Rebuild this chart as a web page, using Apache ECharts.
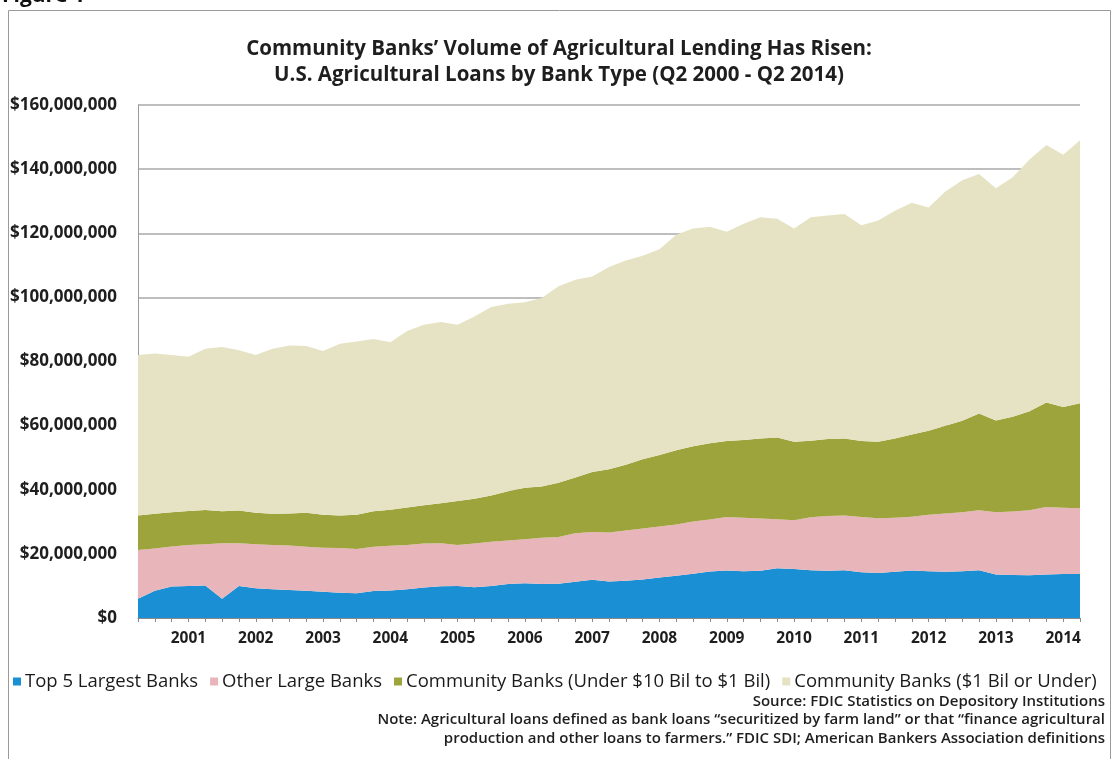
<!DOCTYPE html>
<html>
<head>
<meta charset="utf-8">
<script src="https://cdn.jsdelivr.net/npm/echarts@6/dist/echarts.min.js"></script>
<style>
  html, body { margin: 0; padding: 0; background: #ffffff; }
  #chart { width: 1118px; height: 759px; }
</style>
</head>
<body>
<div id="chart"></div>
<script>
// Quarterly agricultural loans by bank type, Q2 2000 - Q2 2014 (values in millions of the axis unit)
const quarters = [];
for (let y = 2000; y <= 2014; y++) {
  for (let q = 1; q <= 4; q++) {
    if ((y === 2000 && q < 2) || (y === 2014 && q > 2)) continue;
    quarters.push(y + ' Q' + q);
  }
}

const top5Largest = [
  6.0, 8.5, 9.8, 10.0, 10.1, 6.0, 10.0, 9.3, 9.0, 8.7, 8.5, 8.2, 7.9, 7.7, 8.4,
  8.6, 9.0, 9.5, 9.9, 10.0, 9.6, 10.0, 10.6, 10.8, 10.6, 10.7, 11.3, 11.9, 11.4,
  11.6, 12.0, 12.6, 13.2, 13.8, 14.5, 14.8, 14.6, 14.7, 15.5, 15.3, 14.9, 14.7,
  14.9, 14.3, 14.0, 14.4, 14.8, 14.6, 14.4, 14.6, 14.9, 13.6, 13.4, 13.3, 13.6,
  13.7, 13.7
];

const otherLarge = [
  15.2, 13.2, 12.5, 12.8, 12.9, 17.3, 13.3, 13.7, 13.8, 13.9, 13.7, 13.7, 13.9,
  13.8, 13.8, 13.9, 13.8, 13.7, 13.4, 12.8, 13.6, 13.8, 13.6, 13.8, 14.4, 14.6,
  15.1, 14.9, 15.3, 15.7, 15.9, 15.9, 16.0, 16.3, 16.2, 16.7, 16.7, 16.3, 15.3,
  15.2, 16.5, 17.1, 17.1, 17.2, 17.1, 16.9, 16.8, 17.6, 18.2, 18.4, 18.7, 19.4,
  19.8, 20.3, 21.0, 20.7, 20.5
];

const communityMid = [
  10.8, 10.8, 10.7, 10.6, 10.7, 10.0, 10.2, 9.8, 9.7, 10.0, 10.6, 10.3, 10.2,
  10.7, 11.1, 11.3, 11.7, 12.0, 12.5, 13.7, 14.0, 14.4, 15.3, 16.0, 16.0, 16.9,
  17.4, 18.7, 19.7, 20.5, 21.6, 22.3, 23.1, 23.5, 23.8, 23.7, 24.2, 25.0, 25.5,
  24.5, 23.9, 24.0, 24.0, 23.7, 23.9, 24.7, 25.6, 26.2, 27.4, 28.5, 30.2, 28.6,
  29.6, 30.9, 32.6, 31.4, 32.8
];

const communitySmall = [
  50.0, 50.0, 49.0, 48.1, 50.3, 51.2, 50.0, 49.2, 51.5, 52.4, 52.0, 51.1, 53.5,
  54.0, 53.7, 52.2, 55.0, 56.3, 56.5, 55.0, 56.8, 58.8, 58.5, 57.9, 58.8, 61.3,
  61.7, 61.0, 63.1, 63.7, 63.5, 64.2, 67.2, 67.9, 67.5, 65.3, 67.5, 69.0, 68.2,
  66.5, 69.7, 69.7, 70.0, 67.3, 69.0, 71.0, 72.3, 69.6, 73.0, 75.0, 74.7, 72.4,
  74.7, 78.5, 80.3, 78.7, 82.0
];

const seriesNames = [
  'Top 5 Largest Banks',
  'Other Large Banks',
  'Community Banks (Under $10 Bil to $1 Bil)',
  'Community Banks ($1 Bil or Under)'
];
const seriesColors = ['#1B8FD3', '#E8B5BA', '#9DA43C', '#E6E3C4'];
const seriesData = [top5Largest, otherLarge, communityMid, communitySmall];

const UNIT = 1e6;
const FONT = '"Open Sans", Lato, sans-serif';

const chart = echarts.init(document.getElementById('chart'), null, { renderer: 'canvas' });

chart.setOption({
  backgroundColor: '#ffffff',
  animation: false,
  title: {
    text: 'Community Banks\u2019 Volume of Agricultural Lending Has Risen:\nU.S. Agricultural Loans by Bank Type (Q2 2000 - Q2 2014)',
    left: 'center',
    top: 31,
    textStyle: {
      fontFamily: FONT,
      fontSize: 20.5,
      fontWeight: 'bold',
      color: '#1e1e1e',
      lineHeight: 26
    }
  },
  legend: {
    left: 8,
    top: 667,
    itemWidth: 8,
    itemHeight: 8,
    itemGap: 12,
    icon: 'rect',
    textStyle: {
      fontFamily: FONT,
      fontSize: 18.5,
      color: '#1a1a1a',
      padding: [0, 0, 0, -1]
    },
    data: seriesNames
  },
  grid: {
    left: 138,
    right: 38,
    top: 105,
    bottom: 141
  },
  xAxis: {
    type: 'category',
    boundaryGap: false,
    data: quarters,
    axisLine: { lineStyle: { color: '#8a8a8a', width: 1 } },
    axisTick: {
      interval: 0,
      length: 4,
      lineStyle: { color: '#8a8a8a' }
    },
    axisLabel: {
      interval: function (idx) { return idx % 4 === 3; },
      formatter: function (v) { return v.slice(0, 4); },
      margin: 13,
      fontFamily: FONT,
      fontSize: 15.5,
      fontWeight: 'bold',
      color: '#1e1e1e'
    },
    splitLine: { show: false }
  },
  yAxis: {
    type: 'value',
    min: 0,
    max: 160,
    interval: 20,
    axisLine: { show: true, lineStyle: { color: '#9a9a9a', width: 1 } },
    axisTick: { show: false },
    axisLabel: {
      margin: 21,
      fontFamily: FONT,
      fontSize: 17,
      fontWeight: 'bold',
      color: '#1e1e1e',
      formatter: function (v) {
        return '$' + Math.round(v * UNIT).toLocaleString('en-US');
      }
    },
    splitLine: { lineStyle: { color: '#a8a8a8', width: 1.5 } }
  },
  series: seriesNames.map(function (name, i) {
    return {
      name: name,
      type: 'line',
      stack: 'total',
      data: seriesData[i],
      showSymbol: false,
      symbol: 'none',
      lineStyle: { width: 0 },
      itemStyle: { color: seriesColors[i] },
      areaStyle: { color: seriesColors[i], opacity: 1 }
    };
  }),
  graphic: [
    {
      type: 'rect',
      shape: { x: 8.5, y: 10.5, width: 1102, height: 770 },
      style: { fill: 'none', stroke: '#9a9a9a', lineWidth: 1 },
      silent: true
    },
    {
      type: 'text',
      left: 2,
      top: -14,
      style: {
        text: 'Figure 1',
        font: 'bold 21px ' + FONT,
        fill: '#111111'
      }
    },
    {
      type: 'text',
      right: 13,
      top: 694,
      style: {
        text: 'Source: FDIC Statistics on Depository Institutions',
        font: '600 15px ' + FONT,
        fill: '#1e1e1e',
        align: 'right'
      }
    },
    {
      type: 'text',
      right: 13,
      top: 712,
      style: {
        text: 'Note: Agricultural loans defined as bank loans \u201Csecuritized by farm land\u201D or that \u201Cfinance agricultural',
        font: '600 15px ' + FONT,
        fill: '#1e1e1e',
        align: 'right'
      }
    },
    {
      type: 'text',
      right: 13,
      top: 731,
      style: {
        text: 'production and other loans to farmers.\u201D FDIC SDI; American Bankers Association definitions',
        font: '600 15px ' + FONT,
        fill: '#1e1e1e',
        align: 'right'
      }
    }
  ]
});
</script>
</body>
</html>
